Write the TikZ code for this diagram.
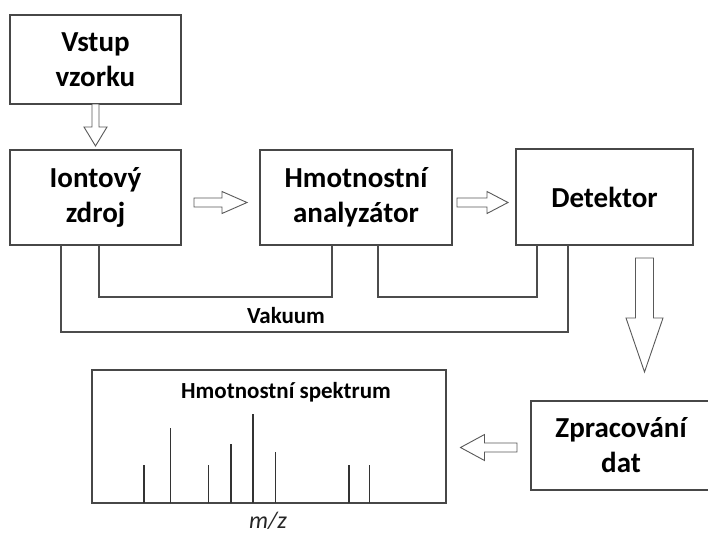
\documentclass[tikz,border=0pt]{standalone}
\usepackage{fontspec}
\setmainfont{Carlito}
\usetikzlibrary{calc}
\newcommand{\blockarrow}[6]{%
  \draw[hollow, shift={#1}, rotate=#2] (0,-#5) -- (#3-#4,-#5) -- (#3-#4,-#6) -- (#3,0) -- (#3-#4,#6) -- (#3-#4,#5) -- (0,#5) -- cycle;}
\begin{document}
\begin{tikzpicture}[x=1pt,y=-1pt,
  box/.style={draw=black!72, line width=1.3pt, fill=white, inner sep=0pt, outer sep=0pt,
    anchor=north west, align=center, font=\bfseries\fontsize{29}{35}\selectfont, text=black},
  hollow/.style={draw=black!65, line width=0.9pt, fill=white, line join=miter},
  vac/.style={draw=black!70, line width=1.3pt},
  peak/.style={draw=black!80, line width=1.2pt}]
\useasboundingbox[fill=white] (0,0) rectangle (708,536);

\node[box, minimum width=171pt, minimum height=89pt] (vs) at (10,15) {Vstup\\vzorku};
\node[box, minimum width=171pt, minimum height=95pt] (iz) at (10,150) {Iontový\\zdroj};
\node[box, minimum width=192pt, minimum height=95pt] (ha) at (260,150) {Hmotnostní\\analyzátor};
\node[box, minimum width=177pt, minimum height=96pt] (de) at (516,149) {Detektor};
\node[box, minimum width=180pt, minimum height=89pt] (zd) at (531,401) {Zpracování\\dat};

% vacuum lines
\draw[vac] ([xshift=89pt]iz.south west) -- ++(0,52) -| ([xshift=72pt]ha.south west);
\draw[vac] ([xshift=118pt]ha.south west) -- ++(0,52) -| ([xshift=21pt]de.south west);
\draw[vac] ([xshift=51pt]iz.south west) -- ++(0,87) -| ([xshift=52pt]de.south west);
\node[font=\bfseries\fontsize{23}{26}\selectfont, text=black] (vak) at (286,316) {Vakuum};

% block arrows
\blockarrow{(95.5,104)}{-90}{42}{19}{3.5}{11.5}
\blockarrow{(194,202.5)}{0}{53}{25}{4.5}{11}
\blockarrow{(457,202.5)}{0}{51}{21}{4.5}{11}
\blockarrow{(644.5,258)}{-90}{114}{54}{9}{18.5}
\blockarrow{(517,447.5)}{180}{56.5}{24}{4.5}{13}

% spectrum
\node[draw=black!72, line width=1.3pt, inner sep=0pt, outer sep=0pt, anchor=north west,
  minimum width=354pt, minimum height=133pt] (sp) at (92,370) {};
\node[font=\bfseries\fontsize{23}{26}\selectfont, text=black] (spt) at (286,392) {Hmotnostní spektrum};
\foreach \x/\t in {144/465, 170.7/428, 208.3/465, 231/444, 253/414, 275.7/452, 349/465, 369.7/465}
  \draw[peak] (\x,503) -- (\x,\t);
\node[font=\itshape\fontsize{24}{26}\selectfont, text=black!85, inner sep=0pt] (mz) at (268,521) {m/z};
\end{tikzpicture}
\end{document}
